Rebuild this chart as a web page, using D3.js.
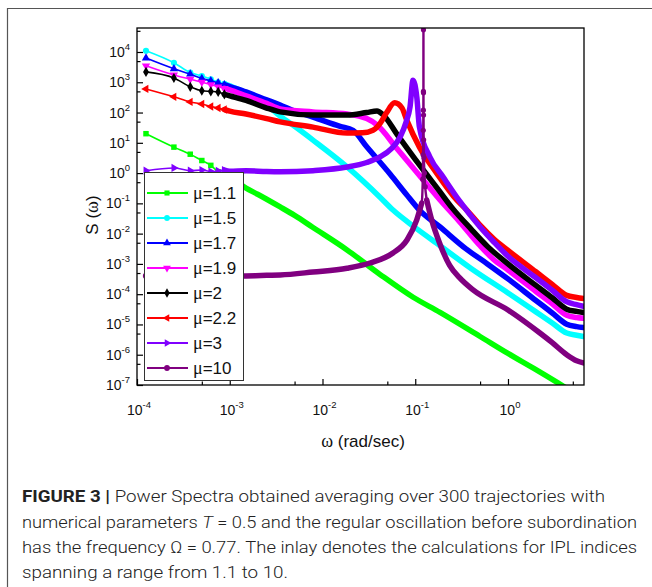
<!DOCTYPE html>
<html><head><meta charset="utf-8">
<script src="https://cdn.jsdelivr.net/npm/d3@7"></script>
<style>body{margin:0;background:#fff}svg{display:block}</style>
</head><body>
<svg id="c" width="652" height="587"></svg>
<script>
// ---------------- DATA ----------------
const seriesLabels = ["1.1","1.5","1.7","1.9","2","2.2","3","10"];
const seriesColors = ["#00ff00","#00ffff","#0000ff","#ff00ff","#000000","#ff0000","#8000ff","#800080"];
const seriesMarkers = ["square","circle","up","down","diamond","left","right","circle"];
const lowW = [1.25e-4,2.5e-4,3.75e-4,5e-4,6.25e-4,7.5e-4,8.75e-4,1e-3];

const w_mu11 = [...lowW,1.5e-3,2e-3,3.5e-3,5e-3,7.9e-3,0.0184,0.0417,0.095,0.185,0.5,1.0,2.0,4.0,6.5];
const s_mu11 = [20,7.2,4.2,2.6,1.8,1.1,0.89,0.71,0.32,0.2,0.076,0.04,0.016,2.9e-3,4.5e-4,7.9e-5,2.5e-5,4.0e-6,1.1e-6,3.2e-7,8.9e-8,3.5e-8];

const w_mu15 = [...lowW,1.5e-3,2.5e-3,3.5e-3,5e-3,7.9e-3,0.0184,0.0417,0.0576,0.1,0.185,0.4,1.0,2.0,3.0,4.3,5.5,6.5];
const s_mu15 = [1.1e4,4.4e3,2.1e3,1.6e3,1.26e3,1.0e3,890,760,450,180,76,35,12.3,1.6,0.16,0.06,0.0158,4.0e-3,7.1e-4,1.1e-4,2.6e-5,1.12e-5,5.2e-6,4.4e-6,4.0e-6];

const w_mu17 = [...lowW,1.5e-3,2.5e-3,3.5e-3,5e-3,7.9e-3,0.0155,0.0213,0.03,0.0535,0.08,0.111,0.185,0.35,0.6,1.0,2.0,3.0,4.3,5.5,6.5];
const s_mu17 = [6.3e3,2.8e3,1.86e3,1.32e3,1.12e3,955,830,724,479,263,178,112,71,35,26,7.4,0.93,0.2,0.06,0.0166,3.2e-3,1.0e-3,3.2e-4,6.2e-5,2.4e-5,1.02e-5,8.5e-6,7.9e-6];

const w_mu19 = [...lowW,1.5e-3,2.5e-3,3.5e-3,7.9e-3,0.0184,0.03,0.0387,0.0634,0.111,0.185,0.3,0.5,0.7,1.0,2.0,3.0,4.3,5.5,6.5];
const s_mu19 = [3.5e3,1.74e3,1.26e3,1.0e3,832,708,631,562,355,200,132,105,89,63,39,6.5,0.83,0.13,0.025,4.0e-3,1.4e-3,6.3e-4,1.23e-4,4.8e-5,2.0e-5,1.7e-5,1.6e-5];

const w_mu2 = [...lowW,1.5e-3,2.5e-3,3.5e-3,7.9e-3,0.0184,0.03,0.0387,0.0452,0.0634,0.111,0.185,0.25,0.4,0.6,1.0,2.0,3.0,4.3,5.5,6.5];
const s_mu2 = [2.2e3,1.38e3,708,525,500,479,398,355,251,141,105,83,83,100,112,83,19.5,1.86,0.24,0.071,0.0141,3.8e-3,1.0e-3,1.95e-4,7.6e-5,3.2e-5,2.7e-5,2.5e-5];

const w_mu22 = [...lowW,1.5e-3,2.5e-3,3.5e-3,7.9e-3,0.0184,0.027,0.035,0.042,0.049,0.06,0.072,0.081,0.111,0.17,0.28,0.36,0.5,0.7,1.0,2.0,3.0,4.3,5.5,6.5];
const s_mu22 = [603,331,224,191,158,141,126,112,89,63,49,33,21,21.4,26,45,98,209,141,56,7.2,1.0,0.129,0.06,0.019,6.8e-3,2.8e-3,5.5e-4,2.1e-4,9.1e-5,7.8e-5,7.2e-5];

const w_mu3 = [...lowW,1.5e-3,2.5e-3,3.5e-3,7.9e-3,0.0184,0.03,0.0417,0.055,0.0687,0.08,0.0878,0.0946,0.104,0.111,0.144,0.2,0.3,0.5,0.7,1.0,2.0,3.0,4.3,5.5,6.5];
const s_mu3 = [1.2,1.48,1.2,1.26,1.12,1.17,1.26,1.15,1.2,1.12,1.1,1.2,1.58,2.24,3.4,6.3,15.5,50,151,1175,316,33,3.4,0.74,0.12,0.0166,5.4e-3,1.78e-3,3.5e-4,1.35e-4,5.6e-5,4.5e-5,4.0e-5];

const w_mu10 = [...lowW,1.5e-3,2.5e-3,3.5e-3,7.9e-3,0.0184,0.0325,0.0575,0.0815,0.1036,0.1175,0.1205,0.1215,0.122,0.1223,0.1225,0.1226,0.1227,0.1229,0.1232,0.124,0.1255,0.128,0.133,0.1505,0.185,0.235,0.3,0.42,1.0,2.21,3.0,4.3,5.5,6.5];
const s_mu10 = [4.0e-4,4.2e-4,3.8e-4,4.1e-4,3.9e-4,4.0e-4,4.2e-4,3.9e-4,4.0e-4,4.2e-4,4.3e-4,5.4e-4,7.2e-4,1.07e-3,2.3e-3,6.2e-3,0.028,0.102,0.63,4.0,26,120,500,5.4e4,447,83,12.6,3.2,1.0,0.355,0.129,0.028,4.5e-3,8.9e-4,3.5e-4,1.38e-4,3.0e-5,5.2e-6,2.5e-6,1.0e-6,6.3e-7,5.4e-7];

const seriesW = [w_mu11,w_mu15,w_mu17,w_mu19,w_mu2,w_mu22,w_mu3,w_mu10];
const seriesS = [s_mu11,s_mu15,s_mu17,s_mu19,s_mu2,s_mu22,s_mu3,s_mu10];

// narrow resonance window of the mu=10 spectrum (drawn as a thin line with points)
const spikeWindow = [0.118, 0.132];

const xTickExp = [-4,-3,-2,-1,0];
const yTickExp = [4,3,2,1,0,-1,-2,-3,-4,-5,-6,-7];

// ---------------- DRAW ----------------
const svg = d3.select("#c");
const L=137, T=28, R=584, B=385;
const x = d3.scaleLog().domain([1e-4, 6.6]).range([L, R]);
const y = d3.scaleLog().domain([1e-7, 6.2e4]).range([B, T]);
const SANS = "'Liberation Sans', Arial, sans-serif";
const SERIF = "'Liberation Serif', 'Times New Roman', serif";

// outer figure frame
svg.append("path").attr("d","M7.5,587 V8.5 H652").attr("fill","none").attr("stroke","#555").attr("stroke-width",1.2);

svg.append("defs").append("clipPath").attr("id","clip")
  .append("rect").attr("x",L).attr("y",T).attr("width",R-L).attr("height",B-T);

const plot = svg.append("g").attr("clip-path","url(#clip)");

function symbolFor(kind, size){
  let t = d3.symbolCircle, rot = 0;
  if(kind==="square") t=d3.symbolSquare;
  else if(kind==="up") t=d3.symbolTriangle;
  else if(kind==="down"){t=d3.symbolTriangle;rot=180;}
  else if(kind==="left"){t=d3.symbolTriangle;rot=-90;}
  else if(kind==="right"){t=d3.symbolTriangle;rot=90;}
  else if(kind==="diamond") t=d3.symbolDiamond;
  return {path:d3.symbol().type(t).size(size)(), rot};
}

const line = d3.line().x(d=>x(d[0])).y(d=>y(d[1])).curve(d3.curveMonotoneX);

seriesW.forEach((ws,i)=>{
  const pts = ws.map((w,j)=>[w, seriesS[i][j]]);
  const col = seriesColors[i];
  const g = plot.append("g");
  g.append("path").attr("d", line(pts)).attr("fill","none").attr("stroke",col)
    .attr("stroke-width", i===7?2.4:1.6).attr("stroke-linejoin","round");
  const dense = pts.filter(p=>p[0]>=8.5e-4);
  const segs = (i===7)
    ? [dense.filter(p=>p[0]<=spikeWindow[0]), dense.filter(p=>p[0]>=spikeWindow[1])]
    : [dense];
  segs.forEach(sg=>{
    g.append("path").attr("d", line(sg)).attr("fill","none").attr("stroke",col)
      .attr("stroke-width", 5.5).attr("stroke-linejoin","round").attr("stroke-linecap","round");
  });
  const sym = symbolFor(seriesMarkers[i], 30);
  g.selectAll("path.m").data(pts.filter(p=>p[0]<1e-3)).enter().append("path").attr("class","m")
    .attr("d", sym.path).attr("fill",col)
    .attr("transform", p=>`translate(${x(p[0])},${y(p[1])}) rotate(${sym.rot})`);
  if(i===7){
    g.selectAll("circle.sp").data(pts.filter(p=>p[0]>spikeWindow[0]&&p[0]<spikeWindow[1])).enter()
      .append("circle").attr("class","sp").attr("cx",p=>x(p[0])).attr("cy",p=>y(p[1])).attr("r",2.6).attr("fill",col);
  }
});

// frame
svg.append("rect").attr("x",L).attr("y",T).attr("width",R-L).attr("height",B-T)
  .attr("fill","none").attr("stroke","#000").attr("stroke-width",1.3);

// x axis ticks
const xMajor = xTickExp.map(e=>Math.pow(10,e));
const xMinor = [-4,-3,-2,-1,0].map(e=>5*Math.pow(10,e));
const xAxis = svg.append("g").attr("transform",`translate(0,${B})`);
xAxis.call(d3.axisBottom(x).tickValues(xMajor).tickSize(-6).tickFormat(""));
xAxis.select(".domain").remove();
xAxis.selectAll("line").attr("stroke","#000").attr("stroke-width",1.2);
const xAxisMinor = svg.append("g").attr("transform",`translate(0,${B})`);
xAxisMinor.call(d3.axisBottom(x).tickValues(xMinor).tickSize(-3.5).tickFormat(""));
xAxisMinor.select(".domain").remove();
xAxisMinor.selectAll("line").attr("stroke","#000").attr("stroke-width",1.2);

xTickExp.forEach(e=>{
  const t = svg.append("text").attr("x", x(Math.pow(10,e))+2).attr("y",415)
    .attr("text-anchor","middle").attr("font-family",SANS).attr("font-size",14).attr("fill","#111");
  t.append("tspan").text("10");
  t.append("tspan").attr("dy",-7).attr("font-size",9.5).text(e);
});

// y axis ticks
const yMajor = yTickExp.map(e=>Math.pow(10,e));
const yMinor = [-7,-6,-5,-4,-3,-2,-1,0,1,2,3,4].map(e=>5*Math.pow(10,e));
const yAxis = svg.append("g").attr("transform",`translate(${L},0)`);
yAxis.call(d3.axisLeft(y).tickValues(yMajor).tickSize(-6).tickFormat(""));
yAxis.select(".domain").remove();
yAxis.selectAll("line").attr("stroke","#000").attr("stroke-width",1.2);
const yAxisMinor = svg.append("g").attr("transform",`translate(${L},0)`);
yAxisMinor.call(d3.axisLeft(y).tickValues(yMinor).tickSize(-3.5).tickFormat(""));
yAxisMinor.select(".domain").remove();
yAxisMinor.selectAll("line").attr("stroke","#000").attr("stroke-width",1.2);

yTickExp.forEach(e=>{
  const t = svg.append("text").attr("x", 130).attr("y", y(Math.pow(10,e))+5)
    .attr("text-anchor","end").attr("font-family",SANS).attr("font-size",14).attr("fill","#111");
  t.append("tspan").text("10");
  t.append("tspan").attr("dy",-7).attr("font-size",9.5).text(e);
});

// axis titles
const yt = svg.append("text").attr("transform","translate(98,215) rotate(-90)")
  .attr("text-anchor","middle").attr("font-family",SANS).attr("font-size",17).attr("fill","#111");
yt.append("tspan").text("S (");
yt.append("tspan").attr("font-family",SERIF).attr("font-size",18).text("ω");
yt.append("tspan").text(")");

const xt = svg.append("text").attr("x",363).attr("y",447)
  .attr("text-anchor","middle").attr("font-family",SANS).attr("font-size",17).attr("fill","#111");
xt.append("tspan").attr("font-family",SERIF).attr("font-size",18).text("ω");
xt.append("tspan").text(" (rad/sec)");

// legend
const lg = svg.append("g");
lg.append("rect").attr("x",144.5).attr("y",172.5).attr("width",99).attr("height",208)
  .attr("fill","#fff").attr("stroke","#333").attr("stroke-width",1);
seriesLabels.forEach((lab,i)=>{
  const cy = 193 + i*25;
  lg.append("line").attr("x1",147).attr("x2",188).attr("y1",cy).attr("y2",cy)
    .attr("stroke",seriesColors[i]).attr("stroke-width",2);
  const sym = symbolFor(seriesMarkers[i], 26);
  lg.append("path").attr("d",sym.path).attr("fill",seriesColors[i])
    .attr("transform",`translate(167,${cy}) rotate(${sym.rot})`);
  const t = lg.append("text").attr("x",193).attr("y",cy+6)
    .attr("font-family",SANS).attr("font-size",17).attr("fill","#111");
  t.append("tspan").attr("font-family",SERIF).attr("font-size",18).text("μ");
  t.append("tspan").text("=" + lab);
});

// caption
const CAP = "Roboto, 'Liberation Sans', Arial, sans-serif";
const capY = [502, 528, 553, 578];
const capEnd = [605, 637, 637, 288];
const capX = 22;
capY.forEach((yy,i)=>{
  const t = svg.append("text").attr("x",capX).attr("y",yy)
    .attr("font-family",CAP).attr("font-size",17).attr("font-weight",300).attr("fill","#222")
    .attr("textLength", capEnd[i]-capX).attr("lengthAdjust","spacingAndGlyphs");
  if(i===0){
    t.append("tspan").attr("font-weight",700).text("FIGURE 3 | ");
    t.append("tspan").text("Power Spectra obtained averaging over 300 trajectories with");
  } else if(i===1){
    t.append("tspan").text("numerical parameters ");
    t.append("tspan").attr("font-style","italic").text("T");
    t.append("tspan").text(" = 0.5 and the regular oscillation before subordination");
  } else if(i===2){
    t.append("tspan").text("has the frequency Ω = 0.77. The inlay denotes the calculations for IPL indices");
  } else {
    t.append("tspan").text("spanning a range from 1.1 to 10.");
  }
});
</script>
</body></html>
